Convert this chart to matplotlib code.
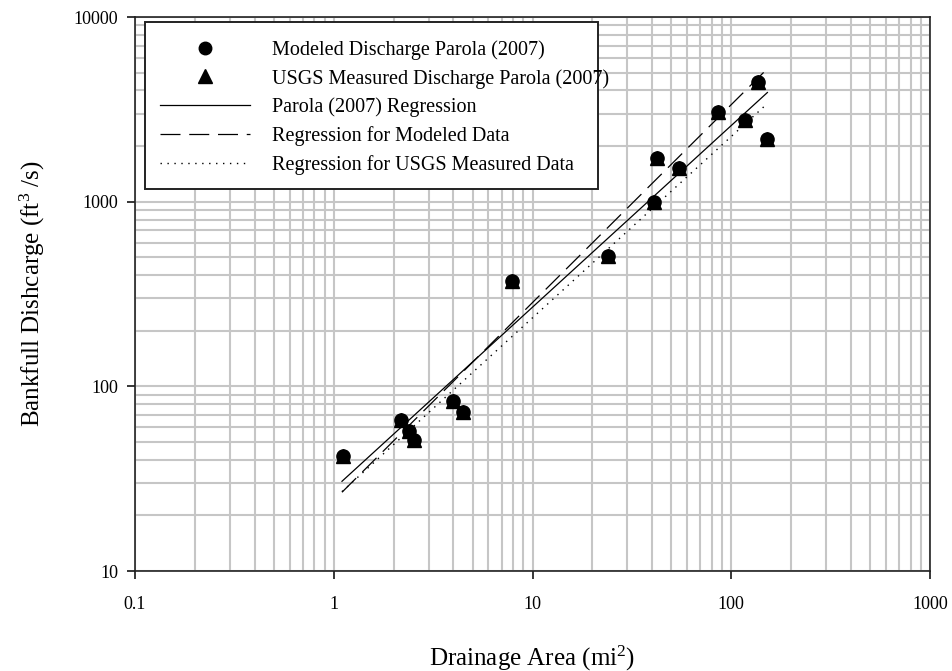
import matplotlib
matplotlib.use("Agg")
import matplotlib.pyplot as plt
from matplotlib.lines import Line2D
from matplotlib.patches import Rectangle
from matplotlib.ticker import LogLocator, FixedLocator, NullFormatter, FixedFormatter

plt.rcParams['font.family'] = ['Liberation Serif', 'DejaVu Serif']
plt.rcParams['mathtext.fontset'] = 'custom'
plt.rcParams['mathtext.rm'] = 'Liberation Serif'
plt.rcParams['mathtext.it'] = 'Liberation Serif:italic'

# ---- data ----
drainage_area = [1.11, 2.18, 2.40, 2.52, 4.0, 4.46, 7.92, 24.0, 40.9, 42.1, 54.7, 85.3, 117, 136, 152]
modeled_q =     [42.2, 66, 57, 51.4, 83, 72.4, 371, 506, 993, 1727, 1525, 3049, 2760, 4473, 2188]
usgs_q =        [42.2, 66, 57, 51.4, 83, 72.4, 371, 506, 993, 1727, 1525, 3049, 2760, 4473, 2188]

reg_x = [1.1, 152]
parola_reg_y = [30.6, 3900]
modeled_reg_y = [26.7, 5250]
usgs_reg_y = [26.9, 3400]

x_ticks = [0.1, 1, 10, 100, 1000]
x_tick_labels = ['0.1', '1', '10', '100', '1000']
y_ticks = [10, 100, 1000, 10000]
y_tick_labels = ['10', '100', '1000', '10000']

legend_labels = ['Modeled Discharge Parola (2007)',
                 'USGS Measured Discharge Parola (2007)',
                 'Parola (2007) Regression',
                 'Regression for Modeled Data',
                 'Regression for USGS Measured Data']

W, H = 953, 671
fig = plt.figure(figsize=(W / 100, H / 100), dpi=100)
ax = fig.add_axes([135 / W, 1 - 571 / H, (930 - 135) / W, (571 - 17) / H])
ax.set_xscale('log')
ax.set_yscale('log')
ax.set_xlim(0.1, 1000)
ax.set_ylim(10, 10000)

gridc = '#c6c6c6'
ax.xaxis.set_major_locator(FixedLocator(x_ticks))
ax.xaxis.set_major_formatter(FixedFormatter(x_tick_labels))
ax.yaxis.set_major_locator(FixedLocator(y_ticks))
ax.yaxis.set_major_formatter(FixedFormatter(y_tick_labels))
ax.xaxis.set_minor_locator(LogLocator(base=10, subs=range(2, 10), numticks=20))
ax.yaxis.set_minor_locator(LogLocator(base=10, subs=range(2, 10), numticks=20))
ax.xaxis.set_minor_formatter(NullFormatter())
ax.yaxis.set_minor_formatter(NullFormatter())
ax.grid(True, which='both', color=gridc, linewidth=1.5, zorder=0)
ax.set_axisbelow(True)

ax.tick_params(which='major', direction='out', length=6, width=1.1, labelsize=13, colors='black')
ax.tick_params(axis='x', which='major', pad=12)
ax.tick_params(axis='y', which='major', pad=6)
ax.tick_params(which='minor', length=0)
for s in ax.spines.values():
    s.set_linewidth(1.2)
    s.set_color('#222222')

ax.plot(reg_x, parola_reg_y, color='black', linewidth=0.9, linestyle='-', zorder=3)
ax.plot(reg_x, modeled_reg_y, color='black', linewidth=0.9, dashes=(16, 7), zorder=3)
ax.plot(reg_x, usgs_reg_y, color='black', linewidth=1.0, dashes=(1, 4), zorder=3)

ax.plot(drainage_area, modeled_q, linestyle='none', marker='o', markersize=9.5,
        color='black', zorder=4)
ax.plot(drainage_area, usgs_q, linestyle='none', marker='^', markersize=10.5,
        color='black', zorder=4)

ax.set_xlabel('Drainage Area (mi$^2$)', fontsize=18, labelpad=22)
ax.set_ylabel('Bankfull Dishcarge (ft$^3$ /s)', fontsize=18)
ax.yaxis.set_label_coords((47 - 135) / (930 - 135), 0.5)

# legend frame (fixed size box, as in the original)
frame = Rectangle((145 / W, 1 - 189 / H), (598 - 145) / W, (189 - 22) / H,
                  transform=fig.transFigure, facecolor='white', edgecolor='#222222',
                  linewidth=1.4, zorder=5)
fig.add_artist(frame)

handles = [
    Line2D([], [], linestyle='none', marker='o', markersize=9, color='black'),
    Line2D([], [], linestyle='none', marker='^', markersize=10, color='black'),
    Line2D([], [], color='black', linewidth=0.9, linestyle='-'),
    Line2D([], [], color='black', linewidth=0.9, dashes=(16, 7)),
    Line2D([], [], color='black', linewidth=1.0, dashes=(1, 4)),
]
leg = fig.legend(handles, legend_labels, loc='upper left',
                 bbox_to_anchor=(160 / W, 1 - 40 / H), bbox_transform=fig.transFigure,
                 borderaxespad=0, borderpad=0, fontsize=14.5, frameon=False,
                 handlelength=4.45, handletextpad=1.1, labelspacing=0.45)
leg.set_zorder(6)

fig.savefig('out.png', dpi=100)
